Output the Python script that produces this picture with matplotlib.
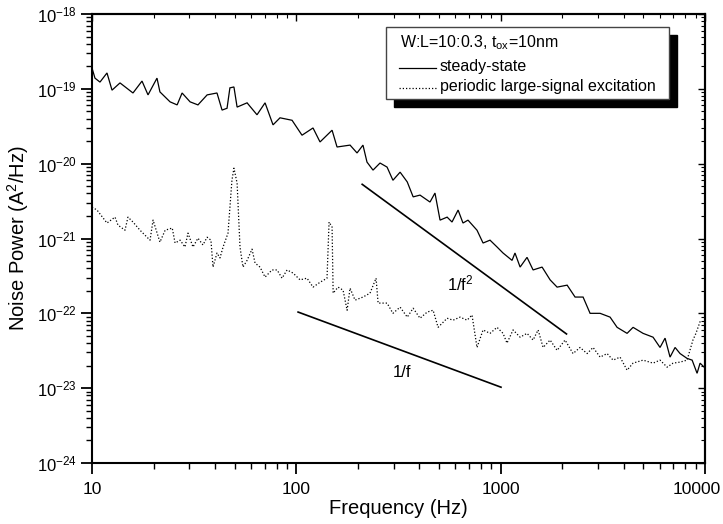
import math
import matplotlib
matplotlib.use("Agg")
import matplotlib.pyplot as plt
from matplotlib.patches import Rectangle
from matplotlib.lines import Line2D
from matplotlib.ticker import FuncFormatter, LogLocator, NullFormatter, FixedLocator
from matplotlib.transforms import ScaledTranslation

plt.rcParams['font.family'] = ['Liberation Sans', 'DejaVu Sans']
plt.rcParams['mathtext.fontset'] = 'custom'
plt.rcParams['mathtext.rm'] = 'Liberation Sans'
plt.rcParams['mathtext.it'] = 'Liberation Sans:italic'
plt.rcParams['mathtext.bf'] = 'Liberation Sans:bold'

# steady-state noise spectrum
freq_ss = [10, 10.34, 10.94, 11.84, 12.53, 13.71, 15.87, 17.57, 18.8, 20.8, 21.5, 24.1, 26.1, 27.6,
           30.2, 33.0, 36.6, 40.9, 43.3, 45.8, 47.3, 49.5, 51.3, 57.4, 64.2, 70.3, 76.9, 83.2,
           95.3, 106.6, 120.7, 130.6, 149.6, 158.2, 183.2, 198.2, 211.9, 221.7, 237.3, 256.8,
           278, 297, 322, 349, 373, 403, 451, 477, 505, 547, 578, 619, 654, 692, 766, 820, 887,
           960, 1027, 1137, 1175, 1245, 1346, 1441, 1595, 1746, 1889, 2115, 2313, 2531, 2739,
           3067, 3431, 3714, 4156, 4446, 4976, 5569, 6025, 6376, 6745, 7138, 7550, 8170, 8650,
           9146, 9460, 10000]
psd_ss = [1.9e-19, 1.39e-19, 1.23e-19, 1.63e-19, 9.6e-20, 1.2e-19, 8.8e-20, 1.27e-19, 8.3e-20,
          1.39e-19, 9.1e-20, 6.7e-20, 6.1e-20, 8.8e-20, 6.7e-20, 6.1e-20, 8.3e-20, 8.8e-20,
          5.2e-20, 5.5e-20, 1.03e-19, 1.06e-19, 5.7e-20, 6.5e-20, 4.5e-20, 6.5e-20, 3.3e-20,
          4.1e-20, 3.8e-20, 2.4e-20, 3.0e-20, 1.95e-20, 2.8e-20, 1.67e-20, 1.77e-20, 1.39e-20,
          1.77e-20, 1.05e-20, 8.2e-21, 1.02e-20,
          9.0e-21, 6.0e-21, 7.7e-21, 5.7e-21, 3.6e-21, 3.8e-21, 3.07e-21, 4.05e-21, 1.76e-21,
          1.93e-21, 1.66e-21, 2.4e-21, 1.61e-21, 1.76e-21, 1.29e-21, 8.7e-22, 9.5e-22, 7.7e-22,
          6.4e-22, 5.1e-22, 6.4e-22, 4.15e-22, 5.6e-22, 3.8e-22, 4.15e-22, 2.8e-22, 2.24e-22,
          2.38e-22, 1.65e-22, 1.65e-22, 1.0e-22, 1.0e-22, 8.9e-23, 6.5e-23, 5.4e-23, 6.5e-23,
          5.4e-23, 4.8e-23, 3.5e-23, 4.66e-23, 2.6e-23, 3.5e-23, 2.9e-23, 2.5e-23, 2.37e-23,
          1.58e-23, 2.16e-23, 1.86e-23]

# periodic large-signal excitation noise spectrum
freq_pl = [10, 10.58, 11.84, 12.96, 13.4, 14.5, 15.0, 15.87, 17.18, 19.23, 19.9, 21.5, 22.8, 24.7,
           25.5, 27.0, 28.5, 29.5, 31.2, 33.0, 34.9, 36.6, 38.2, 39.1, 40.9, 42.3, 43.8, 46.3,
           48.4, 49.5, 51.3, 53.0, 54.8, 57.4, 60.7, 62.8, 66.4, 70.3, 76.0, 80.5, 85.1, 90.1,
           96.4, 104.3, 112.8, 120.7, 130.6, 141.3, 144.6, 149.6, 151.4, 160, 169.3, 177.2,
           183.2, 193.8, 211.9, 229.4, 245.6, 251.3, 278, 297, 322, 349, 373, 403, 437, 467,
           494, 547, 585, 633, 685, 724, 766, 820, 887, 960, 1027, 1074, 1150, 1245, 1346, 1441,
           1525, 1613, 1746, 1889, 2066, 2260, 2446, 2649, 2833, 3067, 3318, 3550, 3840, 4156,
           4446, 4976, 5569, 6025, 6525, 6982, 7550, 8170, 8730, 9030, 9500]
psd_pl = [2.63e-21, 2.4e-21, 1.61e-21, 1.93e-21, 1.51e-21, 1.29e-21, 1.93e-21, 1.66e-21, 1.29e-21,
          9.5e-22, 1.76e-21, 8.95e-22, 1.29e-21, 1.38e-21, 8.7e-22, 9.5e-22, 7.7e-22, 1.18e-21,
          7.7e-22, 1.01e-21, 8.2e-22, 1.04e-21, 9.5e-22, 4.15e-22, 6.4e-22, 5.5e-22, 7.7e-22,
          1.18e-21, 6.0e-21, 8.7e-21, 5.5e-21, 7.7e-22, 4.15e-22, 5.1e-22, 7.2e-22, 4.7e-22,
          4.15e-22, 3.05e-22, 3.8e-22, 3.8e-22, 2.95e-22, 3.8e-22, 3.45e-22, 2.8e-22, 2.95e-22,
          2.24e-22, 2.6e-22, 2.95e-22, 1.66e-21, 1.42e-21, 1.86e-22, 2.24e-22, 2.04e-22, 1.1e-22,
          2.17e-22, 1.5e-22, 1.65e-22, 1.86e-22, 2.95e-22, 1.37e-22, 1.37e-22, 1.0e-22, 1.21e-22,
          8.9e-23, 1.17e-22, 8.6e-23, 1.04e-22, 1.1e-22, 6.5e-23, 8.6e-23, 8.1e-23, 8.9e-23,
          8.1e-23, 9.5e-23, 3.5e-23, 6.0e-23, 5.4e-23, 6.5e-23, 5.4e-23, 4.0e-23, 6.0e-23,
          4.8e-23, 5.4e-23, 4.4e-23, 6.0e-23, 3.5e-23, 4.4e-23, 3.2e-23, 4.4e-23, 2.9e-23,
          3.5e-23, 2.9e-23, 3.5e-23, 2.6e-23, 2.9e-23, 2.37e-23, 2.6e-23, 1.74e-23, 2.16e-23,
          2.37e-23, 2.16e-23, 2.37e-23, 1.91e-23, 2.16e-23, 2.23e-23, 2.37e-23, 4.4e-23, 5.4e-23,
          8.0e-23]

# guide slopes
f2_freq = [210, 2100]
f2_psd = [5.3e-21, 5.3e-23]
f1_freq = [102, 1004]
f1_psd = [1.04e-22, 1.03e-23]

x_ticks = [10, 100, 1000, 10000]
y_ticks = [1e-24, 1e-23, 1e-22, 1e-21, 1e-20, 1e-19, 1e-18]
legend_title = "W:L=10:0.3, t$_{\\mathrm{ox}}$=10nm"
series_labels = ["steady-state", "periodic large-signal excitation"]

W, H = 723, 524
fig = plt.figure(figsize=(W / 100, H / 100), dpi=100)
ax = fig.add_axes([92 / W, 1 - 463 / H, 613 / W, 449 / H])

ax.plot(freq_ss, psd_ss, color='black', lw=0.9, solid_joinstyle='miter')
ax.plot(freq_pl, psd_pl, color='black', lw=0.9, linestyle=(0, (1, 1.6)))
ax.plot(f2_freq, f2_psd, color='black', lw=1.2)
ax.plot(f1_freq, f1_psd, color='black', lw=1.2)

ax.text(632, 2.5e-22, "1/f$^{2}$", fontsize=12, ha='center', va='center')
ax.text(329, 1.64e-23, "1/f", fontsize=12, ha='center', va='center')

ax.set_xscale('log')
ax.set_yscale('log')
ax.set_xlim(10, 10000)
ax.set_ylim(1e-24, 1e-18)
ax.xaxis.set_major_locator(FixedLocator(x_ticks))
ax.xaxis.set_major_formatter(FuncFormatter(lambda v, p: f"{int(round(v))}"))
ax.xaxis.set_minor_formatter(NullFormatter())
ax.yaxis.set_major_locator(FixedLocator(y_ticks))
ax.yaxis.set_minor_locator(LogLocator(base=10, subs=range(2, 10), numticks=100))
ax.yaxis.set_minor_formatter(NullFormatter())


def ylab(v, p):
    e = int(round(math.log10(v)))
    return "10$^{\\mathrm{%d}}$" % e


ax.yaxis.set_major_formatter(FuncFormatter(ylab))

for s in ax.spines.values():
    s.set_linewidth(1.5)
ax.tick_params(which='major', direction='out', length=8, width=1.3, labelsize=12, pad=3)
ax.tick_params(which='minor', direction='out', length=4.5, width=1.0)
ax.tick_params(axis='x', which='major', pad=6, labelsize=12.5)

sx = ax.secondary_xaxis('top')
sx.tick_params(which='major', direction='in', length=5, width=1.0, labeltop=False)
sx.tick_params(which='minor', direction='in', length=3, width=0.8)
sx.xaxis.set_major_locator(FixedLocator(x_ticks))
sx.xaxis.set_major_formatter(NullFormatter())
sx.xaxis.set_minor_formatter(NullFormatter())
sy = ax.secondary_yaxis('right')
sy.tick_params(which='major', direction='in', length=5, width=1.0, labelright=False)
sy.tick_params(which='minor', direction='in', length=3, width=0.8)
sy.yaxis.set_major_locator(FixedLocator(y_ticks))
sy.yaxis.set_minor_locator(LogLocator(base=10, subs=range(2, 10), numticks=100))
sy.yaxis.set_major_formatter(NullFormatter())
sy.yaxis.set_minor_formatter(NullFormatter())
for s in list(sx.spines.values()) + list(sy.spines.values()):
    s.set_linewidth(1.5)

ax.set_xlabel("Frequency (Hz)", fontsize=14.5)
ax.set_ylabel("Noise Power (A$^{2}$/Hz)", fontsize=14.5)
ax.xaxis.set_label_coords(0.5, (463 - 499) / 449)
ax.yaxis.set_label_coords((31 - 92) / 613, 0.5)

# keep the last x label inside the canvas as in the reference
fig.canvas.draw()
xl = ax.get_xticklabels()
xl[-1].set_transform(xl[-1].get_transform() + ScaledTranslation(-8 / 100, 0, fig.dpi_scale_trans))

# legend box with black drop shadow (pixel layout converted to figure fractions)
def fx(px):
    return px / W

def fy(py):
    return 1 - py / H

bx0, bx1, by0, by1 = 386, 669, 27, 99
off = 8
fig.patches.append(Rectangle((fx(bx0 + off), fy(by1 + off)), fx(bx1 - bx0), (by1 - by0) / H,
                             transform=fig.transFigure, facecolor='black', edgecolor='black',
                             zorder=5))
fig.patches.append(Rectangle((fx(bx0), fy(by1)), fx(bx1 - bx0), (by1 - by0) / H,
                             transform=fig.transFigure, facecolor='white', edgecolor='#444444',
                             lw=1.0, zorder=6))
fig.text(fx(400), fy(43), legend_title, fontsize=11.5, va='center', ha='left', zorder=7)
fig.lines.append(Line2D([fx(399), fx(436)], [fy(68), fy(68)], transform=fig.transFigure,
                        color='black', lw=0.9, zorder=7))
fig.text(fx(440), fy(67), series_labels[0], fontsize=11.5, va='center', ha='left', zorder=7)
fig.lines.append(Line2D([fx(399), fx(436)], [fy(88), fy(88)], transform=fig.transFigure,
                        color='black', lw=0.9, linestyle=(0, (1, 1.6)), zorder=7))
fig.text(fx(440), fy(87), series_labels[1], fontsize=11.5, va='center', ha='left', zorder=7)

fig.savefig("out.png", dpi=100)
